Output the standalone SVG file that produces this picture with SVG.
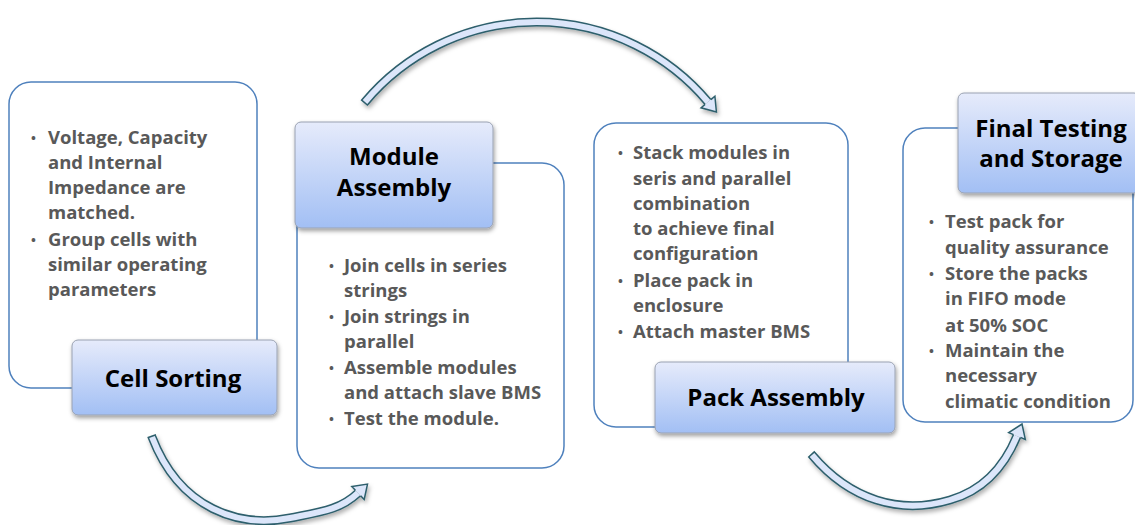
<svg xmlns="http://www.w3.org/2000/svg" width="1135" height="525" viewBox="0 0 1135 525">
<defs>
<linearGradient id="lg" x1="0" y1="0" x2="0" y2="1">
<stop offset="0" stop-color="#e6ebfb"/>
<stop offset="1" stop-color="#a2bff4"/>
</linearGradient>
<filter id="sh" x="-20%" y="-20%" width="140%" height="150%">
<feDropShadow dx="1" dy="2.5" stdDeviation="2.2" flood-color="#000" flood-opacity="0.38"/>
</filter>
<filter id="ash" x="-20%" y="-20%" width="140%" height="150%">
<feDropShadow dx="1.5" dy="3" stdDeviation="2" flood-color="#000" flood-opacity="0.3"/>
</filter>
</defs>
<style>
.outline{fill:#fff;stroke:#4f81bd;stroke-width:1.5}
.label{fill:url(#lg);stroke:#9aa2b2;stroke-width:1;filter:url(#sh)}
.hdr{font-family:"Open Sans",sans-serif;font-weight:700;font-size:24px;fill:#000;text-anchor:middle}
.bt{font-family:"Open Sans",sans-serif;font-weight:700;font-size:18.5px;fill:#595959}
.bul{font-family:"Open Sans",sans-serif;font-weight:700;font-size:13px;fill:#595959}
.bd{fill:none;stroke:#2d5f6c;stroke-width:9}
.bl{fill:none;stroke:#dce6fa;stroke-width:6}
.hd{fill:#dce6fa;stroke:#2d5f6c;stroke-width:1.5;stroke-linejoin:miter}
</style>
<rect width="1135" height="525" fill="#fff"/>

<g id="connectors">
<g id="arrow1" filter="url(#ash)">
<path class="bd" d="M151.5,435.6 L152,437 C180,510 240,528 290,518 C320,512 340,510 358,493"/>
<path class="bl" d="M152,437 C180,510 240,528 290,518 C320,512 340,510 358,493"/>
<path class="hd" d="M360.6,495.7 L364.2,499.5 L367.5,484.1 L351.8,486.5 L355.4,490.3"/>
</g>
<g id="arrow2" filter="url(#ash)">
<path class="bd" d="M364,103.2 L365,102 A224,224 0 0 1 708,102"/>
<path class="bl" d="M365,102 A224,224 0 0 1 708,102"/>
<path class="hd" d="M710.9,99.6 L714.9,96.2 L716.4,112 L701.1,107.8 L705.1,104.4"/>
</g>
<g id="arrow3" filter="url(#ash)">
<path class="bd" d="M811,453.9 L812,455 C850,500 900,515 950,500 C985,490 1005,465 1017,436"/>
<path class="bl" d="M812,455 C850,500 900,515 950,500 C985,490 1005,465 1017,436"/>
<path class="hd" d="M1020.5,437.4 L1025.3,439.4 L1022,424 L1008.7,432.6 L1013.5,434.6"/>
</g>
</g>

<g id="cell-sorting">
<rect class="outline" x="9" y="82" width="248" height="306" rx="22"/>
<text class="bul" x="31" y="143">•</text>
<text class="bt" x="48" y="144">Voltage, Capacity</text>
<text class="bt" x="48" y="169">and Internal</text>
<text class="bt" x="48" y="194">Impedance are</text>
<text class="bt" x="48" y="219">matched.</text>
<text class="bul" x="31" y="245">•</text>
<text class="bt" x="48" y="246">Group cells with</text>
<text class="bt" x="48" y="271">similar operating</text>
<text class="bt" x="48" y="296">parameters</text>
<rect class="label" x="72" y="340" width="205" height="75" rx="6"/>
<text class="hdr" x="173" y="387">Cell Sorting</text>
</g>

<g id="module-assembly">
<rect class="outline" x="297" y="163" width="267" height="305" rx="22"/>
<text class="bul" x="329" y="271">•</text>
<text class="bt" x="344" y="272">Join cells in series</text>
<text class="bt" x="344" y="297">strings</text>
<text class="bul" x="329" y="322">•</text>
<text class="bt" x="344" y="323">Join strings in</text>
<text class="bt" x="344" y="348">parallel</text>
<text class="bul" x="329" y="373">•</text>
<text class="bt" x="344" y="374">Assemble modules</text>
<text class="bt" x="344" y="399">and attach slave BMS</text>
<text class="bul" x="329" y="424">•</text>
<text class="bt" x="344" y="425">Test the module.</text>
<rect class="label" x="295" y="122" width="198" height="106" rx="6"/>
<text class="hdr" x="394" y="165">Module</text>
<text class="hdr" x="394" y="196">Assembly</text>
</g>

<g id="pack-assembly">
<rect class="outline" x="594" y="123" width="254" height="304" rx="22"/>
<text class="bul" x="618" y="158">•</text>
<text class="bt" x="633" y="159">Stack modules in</text>
<text class="bt" x="633" y="185">seris and parallel</text>
<text class="bt" x="633" y="210">combination</text>
<text class="bt" x="633" y="235">to achieve final</text>
<text class="bt" x="633" y="260">configuration</text>
<text class="bul" x="618" y="286">•</text>
<text class="bt" x="633" y="287">Place pack in</text>
<text class="bt" x="633" y="312">enclosure</text>
<text class="bul" x="618" y="337">•</text>
<text class="bt" x="633" y="338">Attach master BMS</text>
<rect class="label" x="655" y="362" width="240" height="71" rx="6"/>
<text class="hdr" x="776" y="406">Pack Assembly</text>
</g>

<g id="final-testing">
<rect class="outline" x="903" y="128" width="230" height="294" rx="22"/>
<text class="bul" x="929" y="227">•</text>
<text class="bt" x="945" y="228">Test pack for</text>
<text class="bt" x="945" y="254">quality assurance</text>
<text class="bul" x="929" y="279">•</text>
<text class="bt" x="945" y="280">Store the packs</text>
<text class="bt" x="945" y="305">in FIFO mode</text>
<text class="bt" x="945" y="332">at 50% SOC</text>
<text class="bul" x="929" y="356">•</text>
<text class="bt" x="945" y="357">Maintain the</text>
<text class="bt" x="945" y="382">necessary</text>
<text class="bt" x="945" y="408">climatic condition</text>
<rect class="label" x="958" y="93" width="182" height="100" rx="6"/>
<text class="hdr" x="1051" y="137">Final Testing</text>
<text class="hdr" x="1051" y="167">and Storage</text>
</g>
</svg>
